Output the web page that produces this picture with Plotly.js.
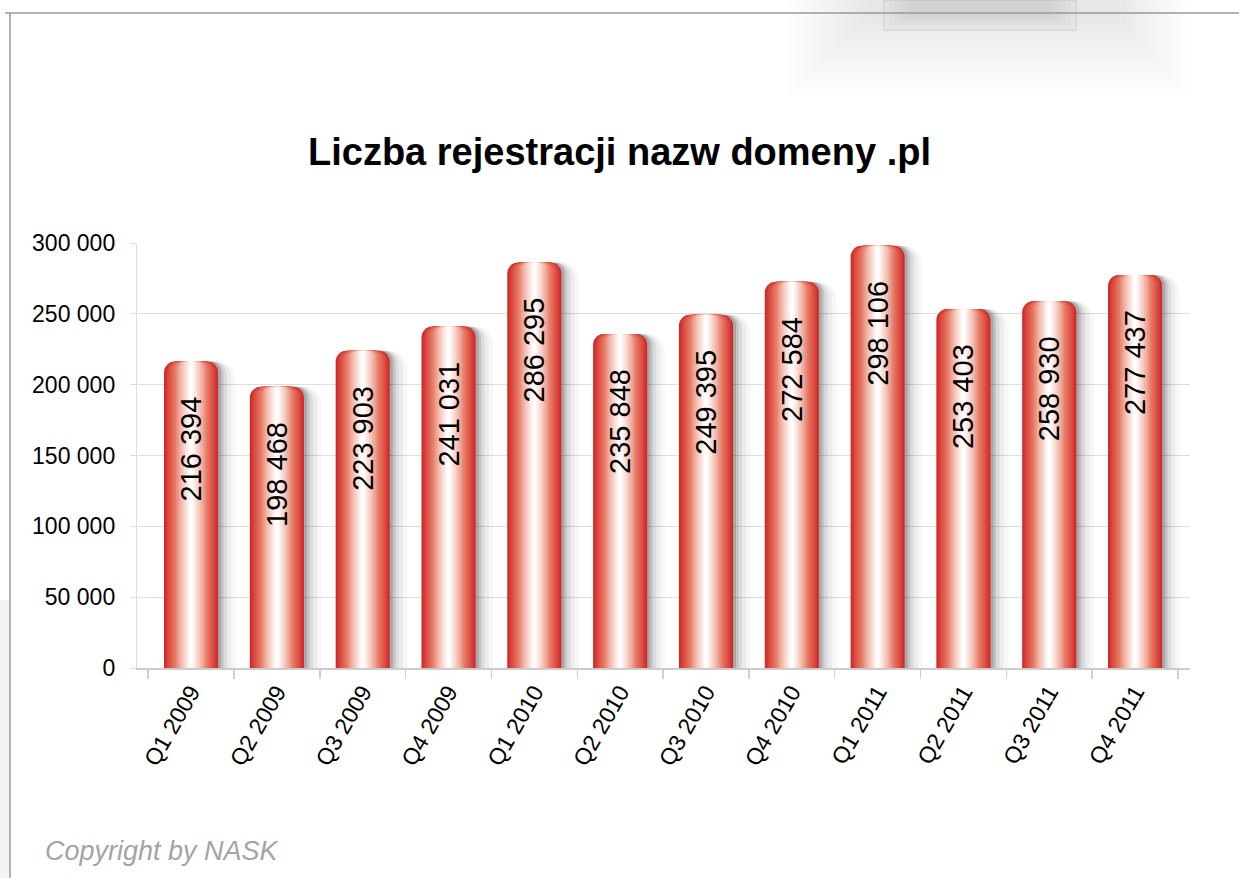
<!DOCTYPE html>
<html>
<head>
<meta charset="utf-8">
<script src="https://cdn.plot.ly/plotly-3.0.1.min.js"></script>
<style>
html,body{margin:0;padding:0;background:#fff;}
#chart{width:1239px;height:878px;}
</style>
</head>
<body>
<div id="chart"></div>
<script>
const categories = ['Q1 2009','Q2 2009','Q3 2009','Q4 2009','Q1 2010','Q2 2010','Q3 2010','Q4 2010','Q1 2011','Q2 2011','Q3 2011','Q4 2011'];
const values = [216394,198468,223903,241031,286295,235848,249395,272584,298106,253403,258930,277437];
const yTicks = [0,50000,100000,150000,200000,250000,300000];
const titleText = 'Liczba rejestracji nazw domeny .pl';
const copyrightText = 'Copyright by NASK';

const BAR_W = 0.63;
const N_LAYERS = 18;
const edge = [210,40,38], mid = [232,130,108], hi = [255,255,255];
function mix(a,b,t){return a.map((v,i)=>Math.round(v+(b[i]-v)*t));}

const traces = [];
// soft shadow (offset to the right)
[[0.20,0.03,18],[0.15,0.045,16],[0.10,0.07,14],[0.06,0.10,12],[0.03,0.14,11]].forEach(s=>{
  traces.push({type:'bar',x:categories,y:values,width:BAR_W+s[0],offset:-(BAR_W/2)+0.005,
    marker:{color:'rgba(0,0,0,'+s[1]+')',cornerradius:s[2],line:{width:0}},hoverinfo:'skip',showlegend:false});
});
// cylinder shading layers
for(let i=0;i<N_LAYERS;i++){
  const f = 1 - i/N_LAYERS;           // width fraction
  const t = i/(N_LAYERS-1);          // 0 edge -> 1 centre
  let c;
  if(t<0.45){ c = mix(edge,mid,Math.pow(t/0.45,0.9)); }
  else { c = mix(mid,hi,Math.pow((t-0.45)/0.55,0.8)); }
  traces.push({type:'bar',x:categories,y:values,width:BAR_W*f,
    marker:{color:'rgb('+c.join(',')+')',cornerradius:Math.max(1,Math.round(11*f)),line:{width:0}},
    hoverinfo:'skip',showlegend:false});
}
// value labels
traces.push({type:'bar',x:categories,y:values,width:BAR_W,
  marker:{color:'rgba(0,0,0,0)',line:{width:0}},
  texttemplate:'%{y:,d}\u00a0\u00a0\u00a0\u00a0',textposition:'inside',insidetextanchor:'end',textangle:-90,
  textfont:{family:'Liberation Sans, Arial, sans-serif',size:29,color:'#000'},
  constraintext:'none',hoverinfo:'skip',showlegend:false});

const P = (px)=>(px-137)/1053;       // x pixel -> paper
const Q = (py)=>(668-py)/425;        // y pixel -> paper

const shapes = [];
// top-right soft background decoration
for(let k=0;k<12;k++){
  shapes.push({type:'rect',xref:'paper',yref:'paper',x0:P(790+k*7),x1:P(1185-k*6),y0:Q(95-k*7),y1:Q(0),
    fillcolor:'rgba(190,190,190,0.03)',line:{width:0},layer:'below'});
}
for(let k=0;k<6;k++){
  shapes.push({type:'rect',xref:'paper',yref:'paper',x0:P(884+k*5),x1:P(1076-k*5),y0:Q(30-k*3),y1:Q(0),
    fillcolor:'rgba(170,170,170,0.06)',line:{width:0},layer:'below'});
}
shapes.push({type:'rect',xref:'paper',yref:'paper',x0:P(884),x1:P(1076),y0:Q(30),y1:Q(0),
  fillcolor:'rgba(0,0,0,0)',line:{color:'rgba(170,170,170,0.45)',width:1},layer:'below'});
// left page edge shading
shapes.push({type:'rect',xref:'paper',yref:'paper',x0:P(0),x1:P(9),y0:Q(878),y1:Q(600),
  fillcolor:'rgba(200,200,200,0.22)',line:{width:0},layer:'below'});
// frame lines
shapes.push({type:'line',xref:'paper',yref:'paper',x0:P(5),x1:P(1239),y0:Q(13),y1:Q(13),line:{color:'#999999',width:1.5}});
shapes.push({type:'line',xref:'paper',yref:'paper',x0:P(10),x1:P(10),y0:Q(13),y1:Q(878),line:{color:'#999999',width:1.5}});

const layout = {
  width:1239,height:878,
  paper_bgcolor:'#ffffff',plot_bgcolor:'rgba(0,0,0,0)',
  separators:', ',
  barmode:'overlay',
  hovermode:false,
  showlegend:false,
  margin:{l:137,r:49,t:243,b:210},
  font:{family:'Liberation Sans, Arial, sans-serif',color:'#000'},
  title:{text:'<b>'+titleText+'</b>',x:0.5,xref:'container',xanchor:'center',y:1-152/878,yanchor:'middle',
    font:{family:'Liberation Sans, Arial, sans-serif',size:38,color:'#000'}},
  xaxis:{type:'category',range:[-0.63,11.64],showgrid:false,
    showline:true,linecolor:'#cccccc',linewidth:1.5,
    ticks:'outside',tickson:'boundaries',ticklen:9,tickcolor:'#d0d0d0',tickwidth:1.5,
    tickangle:-60,tickfont:{size:23,color:'#000'},zeroline:false,fixedrange:true},
  yaxis:{range:[0,300000],tickvals:yTicks,tickformat:',d',
    showgrid:true,gridcolor:'#dedede',gridwidth:1.2,
    showline:true,linecolor:'#dedede',linewidth:1.2,
    ticks:'outside',ticklen:6,tickcolor:'#dedede',ticklabelstandoff:10,
    tickfont:{size:23,color:'#000'},zeroline:false,fixedrange:true},
  shapes:shapes,
  annotations:[
    {text:'<i>'+copyrightText+'</i>',xref:'paper',yref:'paper',x:P(43),y:Q(851),
      xanchor:'left',yanchor:'middle',showarrow:false,
      font:{family:'Liberation Sans, Arial, sans-serif',size:27,color:'#a3a3aa'}}
  ]
};

Plotly.newPlot('chart',traces,layout,{displayModeBar:false,staticPlot:true});
</script>
</body>
</html>
